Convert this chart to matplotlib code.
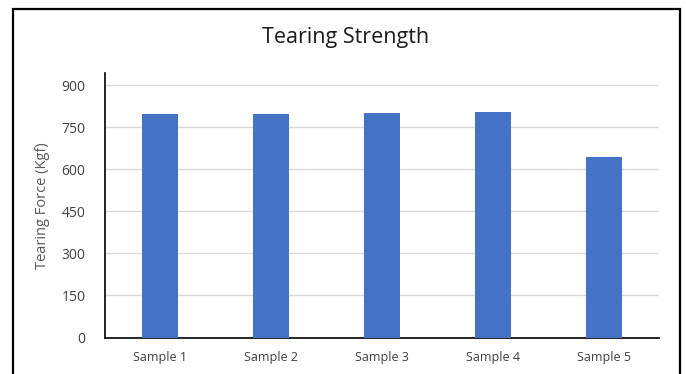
import matplotlib
matplotlib.use("Agg")
import matplotlib.pyplot as plt
from matplotlib.patches import Rectangle

categories = ["Sample 1", "Sample 2", "Sample 3", "Sample 4", "Sample 5"]
tearing_force = [798, 798, 801, 805, 643]
y_ticks = [0, 150, 300, 450, 600, 750, 900]

plt.rcParams['font.family'] = ['Open Sans', 'DejaVu Sans']

W, H = 686, 374
fig = plt.figure(figsize=(W / 100, H / 100), dpi=100)
fig.patch.set_facecolor("white")

# outer frame (open at the bottom edge)
fig.add_artist(Rectangle((13 / W, -0.05), (680 - 13) / W, 1.05 - 9 / H,
                         transform=fig.transFigure, fill=False,
                         edgecolor="black", linewidth=1.6))

ax = fig.add_axes([105 / W, 1 - 337.5 / H, (659 - 105) / W, (337.5 - 73) / H])
x = range(len(categories))
ax.bar(x, tearing_force, width=0.325, color="#4472C4", zorder=3)

ax.set_xlim(-0.5, len(categories) - 0.5)
ax.set_ylim(0, 943)
ax.set_yticks(y_ticks)
ax.set_xticks(list(x))
ax.set_xticklabels(categories)
ax.yaxis.grid(True, color="#D9D9D9", linewidth=1.0, zorder=0)
ax.set_axisbelow(True)

for s in ["top", "right"]:
    ax.spines[s].set_visible(False)
for s in ["left", "bottom"]:
    ax.spines[s].set_color("black")
    ax.spines[s].set_linewidth(1.2)

ax.tick_params(axis="both", length=0, labelsize=9, colors="#404040")
ax.tick_params(axis="y", labelsize=10, pad=14)
ax.tick_params(axis="x", pad=10)

ax.set_ylabel("Tearing Force (Kgf)", fontsize=10.5, color="#595959", labelpad=8)
fig.text(346 / W, 1 - 38 / H, "Tearing Strength", ha="center", va="center",
         fontsize=15.5, color="#1a1a1a")

fig.savefig("out.png", dpi=100)
